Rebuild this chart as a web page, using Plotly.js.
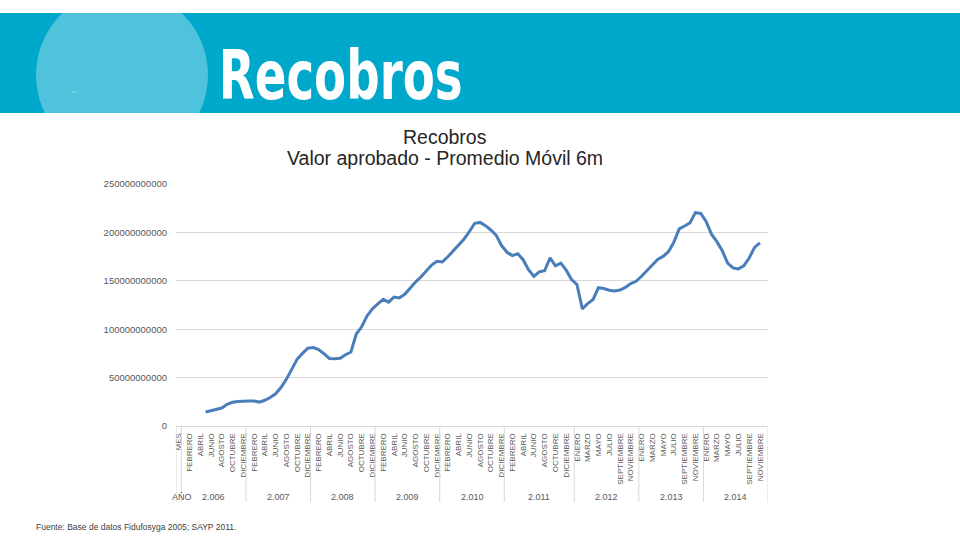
<!DOCTYPE html>
<html>
<head>
<meta charset="utf-8">
<script src="https://cdn.plot.ly/plotly-3.0.1.min.js"></script>
<style>html,body{margin:0;padding:0;background:#fff;}#chart{width:960px;height:540px;}</style>
</head>
<body>
<div id="chart"></div>
<script>
// ---- data ----
const years = ['2.006','2.007','2.008','2.009','2.010','2.011','2.012','2.013','2.014'];
const monthNames = ['ENERO','FEBRERO','MARZO','ABRIL','MAYO','JUNIO','JULIO','AGOSTO','SEPTIEMBRE','OCTUBRE','NOVIEMBRE','DICIEMBRE'];
const extraCategory2011 = [''];   // 2011 group holds one extra (unlabelled) category
const headerCategory = 'MES';
const headerYearLabel = 'AÑO';

// Valor aprobado - promedio móvil 6m (one value per category, MES first)
const valores = [
  null,
  // 2006
  null, null, null, null, 14.5e9, 16.1e9, 17.6e9, 18.6e9, 22.5e9, 24.5e9, 25.4e9, 25.8e9,
  // 2007
  25.9e9, 25.8e9, 24.7e9, 26.6e9, 29.4e9, 33.3e9, 39.7e9, 48.2e9, 59.4e9, 68.9e9, 75.0e9, 80.4e9,
  // 2008
  81.0e9, 79.0e9, 74.7e9, 69.8e9, 69.4e9, 69.9e9, 73.6e9, 76.4e9, 95.0e9, 102.5e9, 113.7e9, 121.1e9,
  // 2009
  126.1e9, 130.8e9, 127.9e9, 133.2e9, 132.2e9, 136.0e9, 142.3e9, 148.7e9, 153.9e9, 159.8e9, 166.3e9, 170.2e9,
  // 2010
  169.5e9, 174.8e9, 180.8e9, 186.2e9, 193.0e9, 200.7e9, 209.4e9, 210.3e9, 207.0e9, 202.5e9, 197.0e9, 186.4e9,
  // 2011 (13)
  179.5e9, 176.0e9, 178.0e9, 171.8e9, 161.5e9, 154.5e9, 159.2e9, 160.4e9, 173.7e9, 165.5e9, 168.3e9, 161.0e9, 151.3e9,
  // 2012
  146.2e9, 121.0e9, 126.5e9, 130.7e9, 142.9e9, 142.1e9, 140.3e9, 139.6e9, 140.5e9, 143.1e9, 147.2e9, 149.5e9,
  // 2013
  154.7e9, 160.5e9, 166.8e9, 172.0e9, 175.2e9, 180.0e9, 189.7e9, 203.6e9, 206.6e9, 209.8e9, 220.4e9, 219.6e9,
  // 2014
  211.3e9, 198.2e9, 190.4e9, 181.0e9, 168.3e9, 163.3e9, 162.3e9, 165.5e9, 173.5e9, 184.5e9, 189.2e9, null
];
const yTicks = [0, 50e9, 100e9, 150e9, 200e9, 250e9];

// ---- categories ----
const catLabels = [headerCategory];
const groups = [];  // {label, start, end}
years.forEach(y => {
  const start = catLabels.length;
  monthNames.forEach(m => catLabels.push(m));
  if (y === '2.011') extraCategory2011.forEach(m => catLabels.push(m));
  groups.push({label: y, start: start, end: catLabels.length - 1});
});
const xIdx = catLabels.map((_, i) => i);
const tickvals = xIdx.filter(i => i % 2 === 0);
const ticktext = tickvals.map(i => catLabels[i]);

// ---- pixel helpers (plot area 176..768 x 184..426) ----
const L = 176, R = 768, T = 184, B = 426;
const px = v => (v - L) / (R - L);
const py = v => (B - v) / (B - T);

const gray = '#595959';
const shapes = [
  {type:'rect', xref:'paper', yref:'paper', x0:px(-2), x1:px(962), y0:py(113), y1:py(13), fillcolor:'#00A8CB', line:{width:0}, layer:'below'},
  {type:'circle', xref:'paper', yref:'paper', x0:px(36), x1:px(208), y0:py(161), y1:py(-11), fillcolor:'#4FC3DC', line:{width:0}, layer:'below'},
  {type:'rect', xref:'paper', yref:'paper', x0:px(-2), x1:px(962), y0:py(13), y1:py(-20), fillcolor:'#ffffff', line:{width:0}, layer:'below'},
  {type:'rect', xref:'paper', yref:'paper', x0:px(-2), x1:px(962), y0:py(176), y1:py(113), fillcolor:'#ffffff', line:{width:0}, layer:'below'}
];
// group dividers
const bounds = [-0.5, 0.5].concat(groups.map(g => g.end + 0.5));
bounds.forEach(b => shapes.push({type:'line', xref:'x', yref:'paper', x0:b, x1:b, y0:0, y1:py(502), line:{color:'#d9d9d9', width:1}}));

const annotations = [
  {text:'Recobros', xref:'paper', yref:'paper', x:px(340), y:py(76), xanchor:'center', yanchor:'middle', showarrow:false,
   font:{family:'DejaVu Sans Condensed, DejaVu Sans, sans-serif', size:68, color:'#ffffff', weight:'bold'}},
  {text:'••', xref:'paper', yref:'paper', x:px(70), y:py(87), showarrow:false, font:{size:6, color:'#9fdcec'}},
  {text:'Recobros', xref:'paper', yref:'paper', x:px(445), y:py(137), xanchor:'center', yanchor:'middle', showarrow:false,
   font:{family:'Liberation Sans, Arial, sans-serif', size:19.5, color:'#262626'}},
  {text:'Valor aprobado - Promedio Móvil 6m', xref:'paper', yref:'paper', x:px(445), y:py(158), xanchor:'center', yanchor:'middle', showarrow:false,
   font:{family:'Liberation Sans, Arial, sans-serif', size:19.5, color:'#262626'}},
  {text:headerYearLabel, xref:'paper', yref:'paper', x:px(182), y:py(497), xanchor:'center', yanchor:'middle', showarrow:false,
   font:{family:'Liberation Sans, Arial, sans-serif', size:9, color:gray}},
  {text:'Fuente: Base de datos Fidufosyga 2005; SAYP 2011.', xref:'paper', yref:'paper', x:px(34), y:py(527), xanchor:'left', yanchor:'middle', showarrow:false,
   font:{family:'Liberation Sans, Arial, sans-serif', size:8.5, color:'#404040'}}
];
groups.forEach(g => annotations.push({text:g.label, xref:'x', yref:'paper', x:(g.start + g.end) / 2, y:py(497), xanchor:'center', yanchor:'middle', showarrow:false,
  font:{family:'Liberation Sans, Arial, sans-serif', size:9, color:gray}}));

const trace = {
  x: xIdx, y: valores, type:'scatter', mode:'lines',
  line:{color:'#4A7EBB', width:3}, connectgaps:false, hoverinfo:'skip'
};

const layout = {
  width:960, height:540,
  margin:{l:L, r:960-R, t:T, b:540-B, pad:0},
  paper_bgcolor:'#ffffff', plot_bgcolor:'#ffffff',
  showlegend:false,
  font:{family:'Liberation Sans, Arial, sans-serif', color:gray},
  xaxis:{type:'linear', range:[-0.5, catLabels.length - 0.5], tickmode:'array', tickvals:tickvals, ticktext:ticktext,
    tickangle:-90, tickfont:{size:8, color:gray}, ticks:'', showgrid:false, zeroline:false,
    showline:true, linecolor:'#d9d9d9', linewidth:1, fixedrange:true, ticklabelstandoff:3},
  yaxis:{range:[0, 250e9], tickmode:'array', tickvals:yTicks, ticktext:yTicks.map(v => String(v)),
    tickfont:{size:9.5, color:gray}, showgrid:true, gridcolor:'#d9d9d9', gridwidth:1, zeroline:false,
    showline:false, ticks:'', ticklabelstandoff:8, fixedrange:true},
  shapes:shapes, annotations:annotations
};

Plotly.newPlot('chart', [trace], layout, {staticPlot:true, displayModeBar:false}).then(gd => {
  // condense the banner heading to the reference width
  const t = gd.querySelector('.annotation[data-index="0"] text.annotation-text');
  if (t) { t.setAttribute('textLength', '244'); t.setAttribute('lengthAdjust', 'spacingAndGlyphs'); }
});
</script>
</body>
</html>
